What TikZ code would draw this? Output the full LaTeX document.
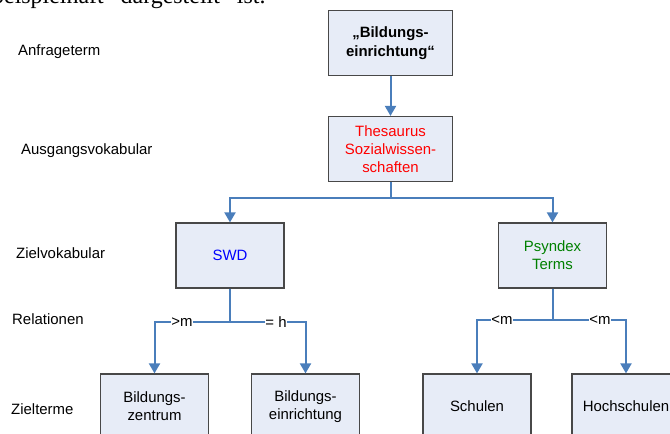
\documentclass[tikz,border=0pt]{standalone}
\usepackage{fontspec}
\setmainfont{Liberation Sans}
\newfontfamily\serifhead{Liberation Serif}
\usetikzlibrary{arrows.meta}
\definecolor{conncol}{RGB}{74,126,187}
\definecolor{boxfill}{RGB}{231,236,247}
\definecolor{boxline}{RGB}{72,72,72}
\definecolor{txtred}{RGB}{255,0,0}
\definecolor{txtblue}{RGB}{0,0,255}
\definecolor{txtgreen}{RGB}{0,128,0}
\tikzset{
  box/.style={draw=boxline, line width=1.2bp, fill=boxfill, rectangle, inner sep=0pt,
    minimum width=108bp, minimum height=65bp, align=center,
    font=\fontsize{15}{18}\selectfont},
  widebox/.style={box, minimum width=124bp},
  conn/.style={draw=conncol, line width=2bp, -{Triangle[width=11bp,length=10bp]}},
  plainconn/.style={draw=conncol, line width=2bp},
  lab/.style={fill=white, inner sep=0.5bp, font=\fontsize{15}{18}\selectfont},
  rowlab/.style={anchor=base west, inner sep=0pt, font=\fontsize{15}{18}\selectfont},
}
\begin{document}
\begin{tikzpicture}[x=1bp,y=-1bp]
\useasboundingbox (0,0) rectangle (670,434);
\clip (0,0) rectangle (670,434);
% cut-off running text at the top
\node[anchor=base west, inner sep=0pt, font=\serifhead\fontsize{24}{28}\selectfont] (head) at (-8,3.5) {\spaceskip=17bp beispielhaft dargestellt ist.};
% row labels
\node[rowlab] (l1) at (18,56) {Anfrageterm};
\node[rowlab] (l2) at (21,155) {Ausgangsvokabular};
\node[rowlab] (l3) at (16,258.5) {Zielvokabular};
\node[rowlab] (l4) at (12,325) {Relationen};
\node[rowlab] (l5) at (11,414.5) {Zielterme};
% boxes
\node[widebox, font=\bfseries\fontsize{15}{19.5}\selectfont] (b1) at (390.5,43) {„Bildungs-\\einrichtung“};
\node[widebox, text=txtred] (b2) at (390.5,149) {Thesaurus\\Sozialwissen-\\schaften};
\node[box, text=txtblue] (b3) at (230,255.5) {SWD};
\node[box, text=txtgreen] (b4) at (552.5,255.5) {Psyndex\\Terms};
\node[box] (b5) at (154.5,406.5) {Bildungs-\\zentrum};
\node[box] (b6) at (305.5,406.5) {Bildungs-\\einrichtung};
\node[box] (b7) at (477,406.5) {Schulen};
\node[box] (b8) at (626,406.5) {Hochschulen};
% junctions
\coordinate (j1) at (390.5,198);
\coordinate (j2) at (230,322);
\coordinate (j3) at (552.5,320);
% connectors
\draw[conn] (b1) -- (b2);
\draw[plainconn] (b2.south) -- (j1);
\draw[conn] (j1) -| (b3.north);
\draw[conn] (j1) -| (b4.north);
\draw[plainconn] (b3.south) -- (j2);
\draw[conn] (j2) -| (b5.north);
\draw[conn] (j2) -| (b6.north);
\draw[plainconn] (b4.south) -- (j3);
\draw[conn] (j3) -| (b7.north);
\draw[conn] (j3) -| (b8.north);
% relation labels
\node[lab] (r1) at (182,322) {>m};
\node[lab] (r2) at (276,322) {= h};
\node[lab] (r3) at (502,320) {<m};
\node[lab] (r4) at (600,320) {<m};
\end{tikzpicture}
\end{document}
